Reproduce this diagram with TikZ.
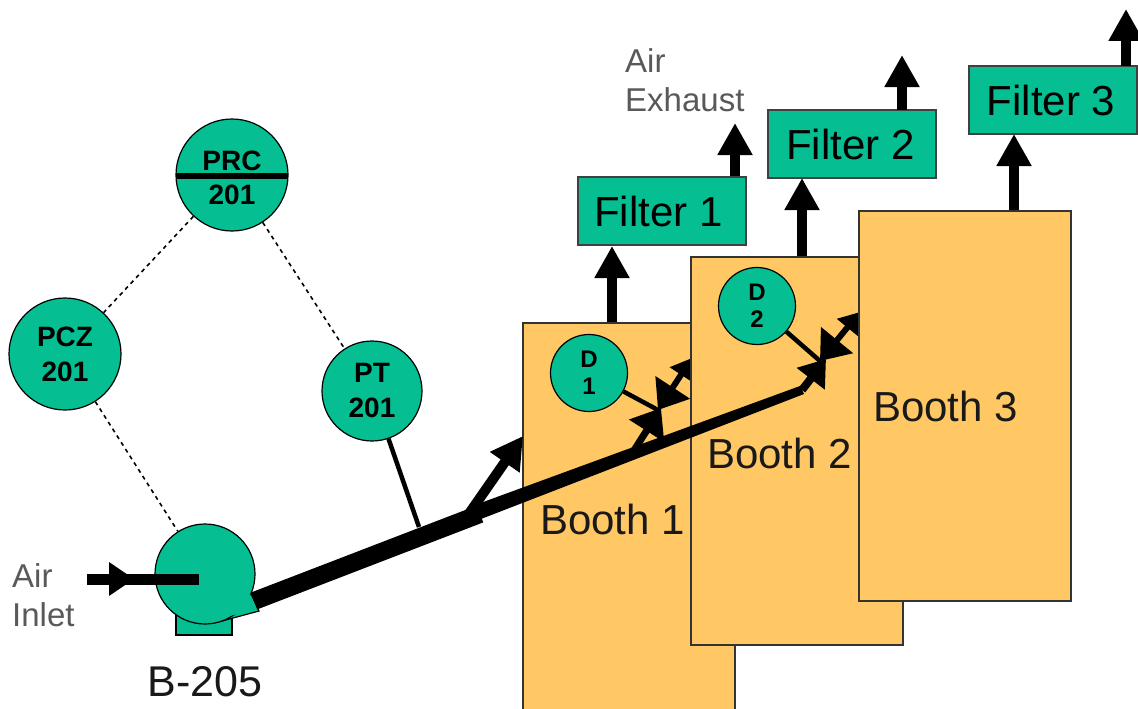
\documentclass[tikz,border=0pt]{standalone}
\usepackage{fontspec}
\setmainfont{Liberation Sans}
\usetikzlibrary{arrows.meta}
\definecolor{tealfill}{HTML}{05BE92}
\definecolor{boothfill}{HTML}{FFC865}
\newcommand{\fsz}[1]{\fontsize{#1}{#1}\selectfont}
\tikzset{
  x=1pt,y=-1pt,
  booth/.style={draw=black!80,line width=1.5pt,fill=boothfill,anchor=north west,inner sep=0pt,minimum width=212pt},
  filterbox/.style={draw=black!75,line width=1.3pt,fill=tealfill,minimum width=168pt,minimum height=68pt,inner sep=0pt,font=\fsz{42}},
  inst/.style={circle,draw=black,line width=1.2pt,fill=tealfill,inner sep=0pt,align=center,font=\fsz{28}\bfseries},
  insttext/.style={inner sep=0pt,font=\fsz{28}\bfseries},
  lab/.style={font=\fsz{42},inner sep=0pt,text=black!90},
  small/.style={font=\fsz{33},inner sep=0pt,text=black!65,align=left},
  flow/.style={line width=10.5pt,-{Triangle[length=32pt,width=33pt]}},
  sig/.style={dashed,dash pattern=on 4pt off 4pt,line width=1.6pt},
  impulse/.style={line width=4.5pt},
  duct/.style={line width=8pt},
  dmp/.style={line width=6pt,{Triangle[length=27pt,width=40pt]}-{Triangle[length=20pt,width=26pt]}},
  dmpin/.style={line width=7pt,-{Triangle[length=27pt,width=40pt]}},
}
\begin{document}
\begin{tikzpicture}
\clip (0,0) rectangle (1138,709);
\useasboundingbox (0,0) rectangle (1138,709);
\fill[white] (0,0) rectangle (1138,709);

% Filters
\node[filterbox] (f1) at (662,211) {Filter 1\kern 7pt};
\node[filterbox] (f2) at (852,144) {Filter 2\kern 3pt};
\node[filterbox] (f3) at (1053,100) {Filter 3\kern 4pt};

% Exhaust ends
\coordinate (e1) at (735,123);
\coordinate (e2) at (902,55);
\coordinate (e3) at (1126,9);
\coordinate (f1o) at (735,176);
\coordinate (f2o) at (902,110);
\coordinate (f3o) at (1126,66);
\draw[flow] (f1o) -- (e1);
\draw[flow] (f2o) -- (e2);
\draw[flow] (f3o) -- (e3);

% Booth 1 and its damper
\node[booth,minimum height=400pt] (b1) at (522,322) {};
\coordinate (b1up) at (612,322);
\coordinate (f1in) at (612,246);
\draw[flow] (b1up) -- (f1in);
\coordinate (d1pivot) at (658,410);
\coordinate (d1out) at (692,358);
\draw[dmp] (d1pivot) -- (d1out);
\node[inst,minimum size=77pt,font=\fsz{24}\bfseries] (d1) at (589,373) {D\\[3pt]1};

% Booth 2 and its damper
\node[booth,minimum height=388pt] (b2) at (690,256) {};
\coordinate (b2up) at (802,256);
\coordinate (f2in) at (802,178);
\draw[flow] (b2up) -- (f2in);
\coordinate (d2pivot) at (820,361);
\coordinate (d2out) at (860,312);
\draw[dmp] (d2pivot) -- (d2out);
\node[inst,minimum size=77pt,font=\fsz{24}\bfseries] (d2) at (757,306) {D\\[3pt]2};

% Booth 3
\node[booth,minimum height=390pt] (b3) at (858,210) {};
\coordinate (b3up) at (1014,210);
\coordinate (f3in) at (1014,134);
\draw[flow] (b3up) -- (f3in);

% Fan
\node[draw=black,line width=1.2pt,fill=tealfill,minimum width=56pt,minimum height=20pt,inner sep=0pt] (base) at (204,625) {};
\fill[tealfill,draw=black,line width=1.2pt] (240,600) -- (250,592) -- (259,611) -- (222,621) -- cycle;
\node[circle,draw=black,line width=1.2pt,fill=tealfill,minimum size=100pt,inner sep=0pt] (fan) at (205,574) {};
\fill[tealfill] (232,612) -- (250,594) -- (257,609) -- (226,617) -- cycle;

% Ducts
\coordinate (ductstart) at (254,601);
\coordinate (junction) at (480,514);
\coordinate (elbow) at (802,390);
\coordinate (d2tip) at (826,359);
\coordinate (b1tip) at (523,436);
\coordinate (branch) at (466,518);
\coordinate (b1elbow) at (633,452);
\coordinate (d1tip) at (661,408);
\coordinate (tu) at (475,505);
\coordinate (tl) at (481,519);
\coordinate (eu) at (800,386);
\coordinate (el) at (804,394);
\draw[line width=18pt] (ductstart) -- (junction);
\fill (tu) -- (eu) -- (el) -- (tl) -- cycle;
\draw[duct,-{Triangle[length=25pt,width=34pt]}] (elbow) -- (d2tip);
\draw[line width=10pt,-{Triangle[length=32pt,width=34pt]}] (branch) -- (b1tip);
\draw[dmpin] (b1elbow) -- (d1tip);

% Signal lines to ducts
\draw[impulse] (d1) -- (d1pivot);
\draw[impulse] (d2) -- (d2pivot);

% Instruments
\node[inst,minimum size=112pt] (prc) at (232,175) {};
\node[insttext] (prctop) at (232,161) {PRC};
\node[insttext] (prcbot) at (232,195) {201};
\coordinate (barL) at (176,176);
\coordinate (barR) at (288,176);
\draw[line width=6pt] (barL) -- (barR);
\node[inst,minimum size=112pt] (pcz) at (65,354) {PCZ\\[7pt]201};
\node[inst,minimum size=100pt] (pt) at (372,391) {PT\\[7pt]201};

\coordinate (tap) at (419,527);
\draw[impulse] (pt) -- (tap);
\draw[sig] (prc) -- (pcz);
\draw[sig] (prc) -- (pt);
\draw[sig] (pcz) -- (fan);

% Inlet arrow
\coordinate (inletA) at (87,579);
\coordinate (inletB) at (199,579);
\coordinate (inletH) at (134,579);
\draw[line width=11pt] (inletA) -- (inletB);
\draw[line width=0pt,-{Triangle[length=25pt,width=34pt]}] (inletA) -- (inletH);

% Labels
\node[lab,anchor=west] (t1) at (540,519) {Booth 1};
\node[lab,anchor=west] (t2) at (707,453) {Booth 2};
\node[lab,anchor=west] (t3) at (873,406) {Booth 3};
\node[lab,anchor=center,font=\fsz{43}] (t4) at (205,682) {B-205};
\node[small,anchor=west] (t5) at (12,595) {Air\\[6pt]Inlet};
\node[small,anchor=west] (t6) at (625,80) {Air\\[6pt]Exhaust};
\end{tikzpicture}
\end{document}
